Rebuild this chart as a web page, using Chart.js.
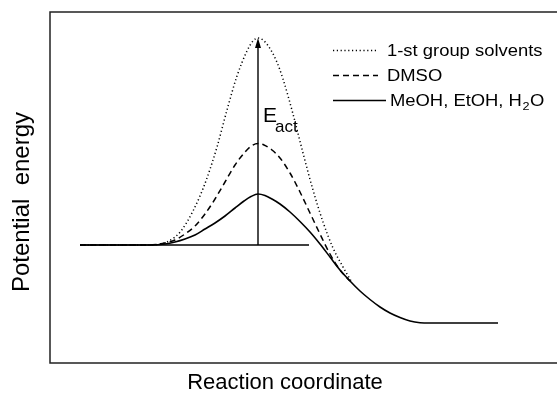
<!DOCTYPE html>
<html>
<head>
<meta charset="utf-8">
<script src="https://cdn.jsdelivr.net/npm/chart.js@4.4.1/dist/chart.umd.min.js"></script>
<style>
  html, body { margin: 0; padding: 0; background: #fff; }
</style>
</head>
<body>
<canvas id="pes" width="557" height="400"></canvas>
<script>
// reaction coordinate / energy, arbitrary units
const coordSolid  = [30, 100, 115, 125, 135, 145, 155, 165, 175, 185, 194, 201, 208, 215, 222, 230, 240, 250, 260, 270, 280, 290, 300, 310, 320, 330, 340, 350, 360, 370, 380, 448];
const energySolid = [118, 118, 119, 121, 124, 128, 134, 140, 147, 155, 162, 166.5, 169, 167.5, 164, 159, 151, 141.5, 131, 119, 106, 93, 82, 72, 63.5, 56, 50, 45.5, 42, 40.3, 40, 40];

const coordDmso  = [30, 100, 115, 125, 135, 145, 155, 165, 175, 185, 195, 202, 208, 214, 222, 230, 240, 250, 260, 270, 280, 290, 300];
const energyDmso = [118, 118, 120, 123, 129, 137, 149, 164, 181, 198, 211, 217.5, 219.5, 218, 213, 205, 190, 171, 150, 129, 109, 93, 82];

const coordFirst  = [30, 100, 110, 117, 125, 131, 137, 143, 150, 157, 167, 177, 187, 197, 203, 208, 213, 219, 226, 233, 243, 253, 263, 273, 283, 293, 301];
const energyFirst = [118, 118, 119, 121, 126, 132, 141, 152, 167, 185, 216, 253, 287, 312, 322, 325, 323, 316, 303, 284, 249, 210, 173, 141, 115, 96, 82];

const reactantLevel = { from: 30, to: 259, energy: 118 };
const barrierCoord = 208;
const barrierTop = 325;

const legendLabels = ["1-st group solvents", "DMSO", "MeOH, EtOH, H"];

const pairs = (xs, ys) => xs.map((x, i) => ({ x: x, y: ys[i] }));

const base = {
  pointRadius: 0,
  fill: false,
  borderColor: "#000",
  cubicInterpolationMode: "monotone"
};

const datasets = [
  Object.assign({}, base, { label: legendLabels[0], data: pairs(coordFirst, energyFirst), borderWidth: 1.5, borderDash: [1.2, 2.6] }),
  Object.assign({}, base, { label: legendLabels[1], data: pairs(coordDmso, energyDmso), borderWidth: 1.5, borderDash: [6, 4] }),
  Object.assign({}, base, { label: legendLabels[2], data: pairs(coordSolid, energySolid), borderWidth: 1.6 }),
  Object.assign({}, base, { label: "level", data: [{ x: reactantLevel.from, y: reactantLevel.energy }, { x: reactantLevel.to, y: reactantLevel.energy }], borderWidth: 1.4 }),
  Object.assign({}, base, { label: "arrow", data: [{ x: barrierCoord, y: reactantLevel.energy }, { x: barrierCoord, y: barrierTop - 6 }], borderWidth: 1.4 })
];

const FONT = "'Liberation Sans', Arial, sans-serif";

const decorations = {
  id: "decorations",
  afterDraw(chart) {
    const ctx = chart.ctx;
    const a = chart.chartArea;
    const xs = chart.scales.x, ys = chart.scales.y;
    ctx.save();

    // frame (left, top, bottom)
    ctx.strokeStyle = "#222";
    ctx.lineWidth = 1.5;
    ctx.setLineDash([]);
    ctx.beginPath();
    ctx.moveTo(a.right, a.top);
    ctx.lineTo(a.left, a.top);
    ctx.lineTo(a.left, a.bottom);
    ctx.lineTo(a.right, a.bottom);
    ctx.stroke();

    // arrow head
    const ax = xs.getPixelForValue(barrierCoord);
    const ay = ys.getPixelForValue(barrierTop);
    ctx.fillStyle = "#000";
    ctx.beginPath();
    ctx.moveTo(ax, ay);
    ctx.lineTo(ax - 3, ay + 10);
    ctx.lineTo(ax + 3, ay + 10);
    ctx.closePath();
    ctx.fill();

    // E_act
    ctx.textBaseline = "alphabetic";
    ctx.textAlign = "left";
    ctx.font = "21px " + FONT;
    ctx.fillText("E", ax + 5, 122);
    ctx.font = "17px " + FONT;
    ctx.fillText("act", ax + 17, 132);

    // legend
    const rows = [56, 81, 106];
    const styles = [[1.2, 2.6], [6, 4], []];
    const ends = [378, 378, 386];
    rows.forEach((by, i) => {
      const ly = by - 5.5;
      ctx.lineWidth = 1.4;
      ctx.strokeStyle = "#000";
      ctx.setLineDash(styles[i]);
      ctx.beginPath();
      ctx.moveTo(333, ly);
      ctx.lineTo(ends[i], ly);
      ctx.stroke();
      ctx.setLineDash([]);
      ctx.save();
      ctx.translate(i === 2 ? 390 : 387, by);
      ctx.scale(1.15, 1);
      ctx.font = "16px " + FONT;
      ctx.fillText(legendLabels[i], 0, 0);
      if (i === 2) {
        let w = ctx.measureText(legendLabels[i]).width;
        ctx.font = "11px " + FONT;
        ctx.fillText("2", w + 0.5, 4);
        w += ctx.measureText("2").width + 1;
        ctx.font = "16px " + FONT;
        ctx.fillText("O", w, 0);
      }
      ctx.restore();
    });

    // axis titles
    ctx.fillStyle = "#000";
    ctx.textAlign = "center";
    ctx.textBaseline = "middle";
    ctx.font = "22px " + FONT;
    ctx.fillText("Reaction coordinate", 285, 383);
    ctx.save();
    ctx.translate(22, 202);
    ctx.rotate(-Math.PI / 2);
    ctx.font = "24px " + FONT;
    ctx.fillText("Potential  energy", 0, 0);
    ctx.restore();

    ctx.restore();
  }
};

new Chart(document.getElementById("pes"), {
  type: "line",
  data: { datasets: datasets },
  options: {
    responsive: false,
    animation: false,
    layout: { padding: { left: 50, top: 12, right: 0, bottom: 37 } },
    plugins: { legend: { display: false }, tooltip: { enabled: false } },
    scales: {
      x: { type: "linear", min: 0, max: 507, display: false },
      y: { type: "linear", min: 0, max: 351, display: false }
    }
  },
  plugins: [decorations]
});
</script>
</body>
</html>
